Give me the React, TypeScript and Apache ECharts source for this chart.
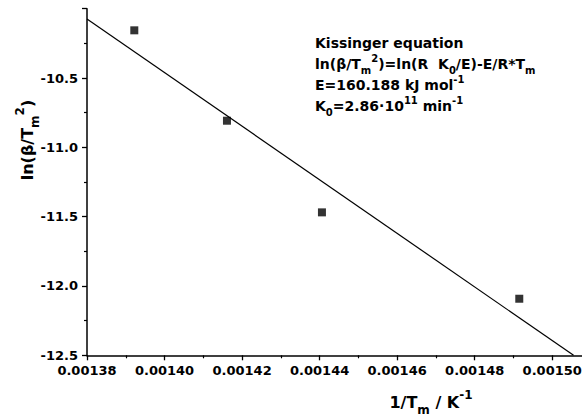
import React, { useEffect, useRef } from "react";
import * as echarts from "echarts";

// Measured data (1/Tm in K^-1, ln(beta/Tm^2))
const invTm = [0.0013922, 0.0014161, 0.0014406, 0.0014915];
const lnBetaTm2 = [-10.156, -10.808, -11.469, -12.092];

// Linear fit line end points
const fitX = [0.00138, 0.0015055];
const fitY = [-10.074, -12.5];

// Axis scales
const xMin = 0.00138;
const xMax = 0.00151;
const xStep = 0.00002;
const yMin = -12.5;
const yMax = -10.0;
const yStep = 0.5;

// Annotation text lines (rich text)
const annotationLines = [
  "Kissinger equation",
  "ln(β/T{sub|m}{sup|2})=ln(R  K{sub|0}/E)-E/R*T{sub|m}",
  "E=160.188 kJ mol{sup|-1}",
  "K{sub|0}=2.86·10{sup|11} min{sup|-1}",
];
const yAxisTitle = "ln(β/T{sub|m}{sup|2})";
const xAxisTitle = "1/T{sub|m} / K{sup|-1}";

const FONT = "'DejaVu Sans', 'Liberation Sans', sans-serif";
const INK = "#000";

const richFor = (size: number) => ({
  sub: {
    fontSize: Math.round(size * 0.72),
    fontFamily: FONT,
    fontWeight: "bold" as const,
    fill: INK,
    verticalAlign: "bottom" as const,
  },
  sup: {
    fontSize: Math.round(size * 0.72),
    fontFamily: FONT,
    fontWeight: "bold" as const,
    fill: INK,
    verticalAlign: "top" as const,
  },
});

export default function App() {
  const ref = useRef<HTMLDivElement>(null);

  useEffect(() => {
    document.body.style.margin = "0";
    if (!ref.current) return;
    const chart = echarts.init(ref.current, undefined, { renderer: "svg" });

    const annotationGraphics = annotationLines.map((t, i) => ({
      type: "text",
      x: 315,
      y: 43 + i * 21,
      style: {
        text: t,
        fontFamily: FONT,
        fontWeight: "bold",
        fontSize: 14,
        lineHeight: 22,
        fill: INK,
        align: "left",
        verticalAlign: "middle",
        rich: richFor(14),
      },
    }));

    chart.setOption({
      animation: false,
      backgroundColor: "#fff",
      grid: { left: 87, right: -9, top: 8.7, bottom: 62.7, outerBoundsMode: "none", containLabel: false },
      xAxis: {
        type: "value",
        min: xMin,
        max: xMax,
        interval: xStep,
        splitLine: { show: false },
        axisLine: { onZero: false, lineStyle: { color: INK, width: 1.5 } },
        axisTick: { inside: false, length: 5, lineStyle: { color: INK, width: 1.3 } },
        minorTick: { show: true, splitNumber: 2, length: 3, lineStyle: { color: INK, width: 1.2 } },
        axisLabel: {
          showMaxLabel: false,
          margin: 9,
          color: INK,
          fontFamily: FONT,
          fontWeight: "bold",
          fontSize: 13,
          formatter: (v: number) => v.toFixed(5),
        },
      },
      yAxis: {
        type: "value",
        min: yMin,
        max: yMax,
        interval: yStep,
        splitLine: { show: false },
        axisLine: { onZero: false, lineStyle: { color: INK, width: 1.5 } },
        axisTick: { inside: false, length: 5, lineStyle: { color: INK, width: 1.3 } },
        minorTick: { show: true, splitNumber: 2, length: 3, lineStyle: { color: INK, width: 1.2 } },
        axisLabel: {
          showMaxLabel: false,
          margin: 9,
          color: INK,
          fontFamily: FONT,
          fontWeight: "bold",
          fontSize: 13,
          formatter: (v: number) => v.toFixed(1),
        },
      },
      series: [
        {
          type: "line",
          data: fitX.map((x, i) => [x, fitY[i]]),
          showSymbol: false,
          symbol: "none",
          lineStyle: { color: INK, width: 1.2 },
          silent: true,
        },
        {
          type: "scatter",
          data: invTm.map((x, i) => [x, lnBetaTm2[i]]),
          symbol: "rect",
          symbolSize: 8,
          itemStyle: { color: INK },
        },
      ],
      graphic: [
        ...annotationGraphics,
        {
          type: "text",
          x: 27,
          y: 140,
          rotation: Math.PI / 2,
          style: {
            text: yAxisTitle,
            fontFamily: FONT,
            fontWeight: "bold",
            fontSize: 16,
            lineHeight: 27,
            fill: INK,
            align: "center",
            verticalAlign: "middle",
            rich: richFor(16),
          },
        },
        {
          type: "text",
          x: 431,
          y: 402,
          style: {
            text: xAxisTitle,
            fontFamily: FONT,
            fontWeight: "bold",
            fontSize: 16,
            lineHeight: 27,
            fill: INK,
            align: "center",
            verticalAlign: "middle",
            rich: richFor(16),
          },
        },
      ],
    });

    return () => chart.dispose();
  }, []);

  return <div ref={ref} style={{ width: 582, height: 418 }} />;
}
